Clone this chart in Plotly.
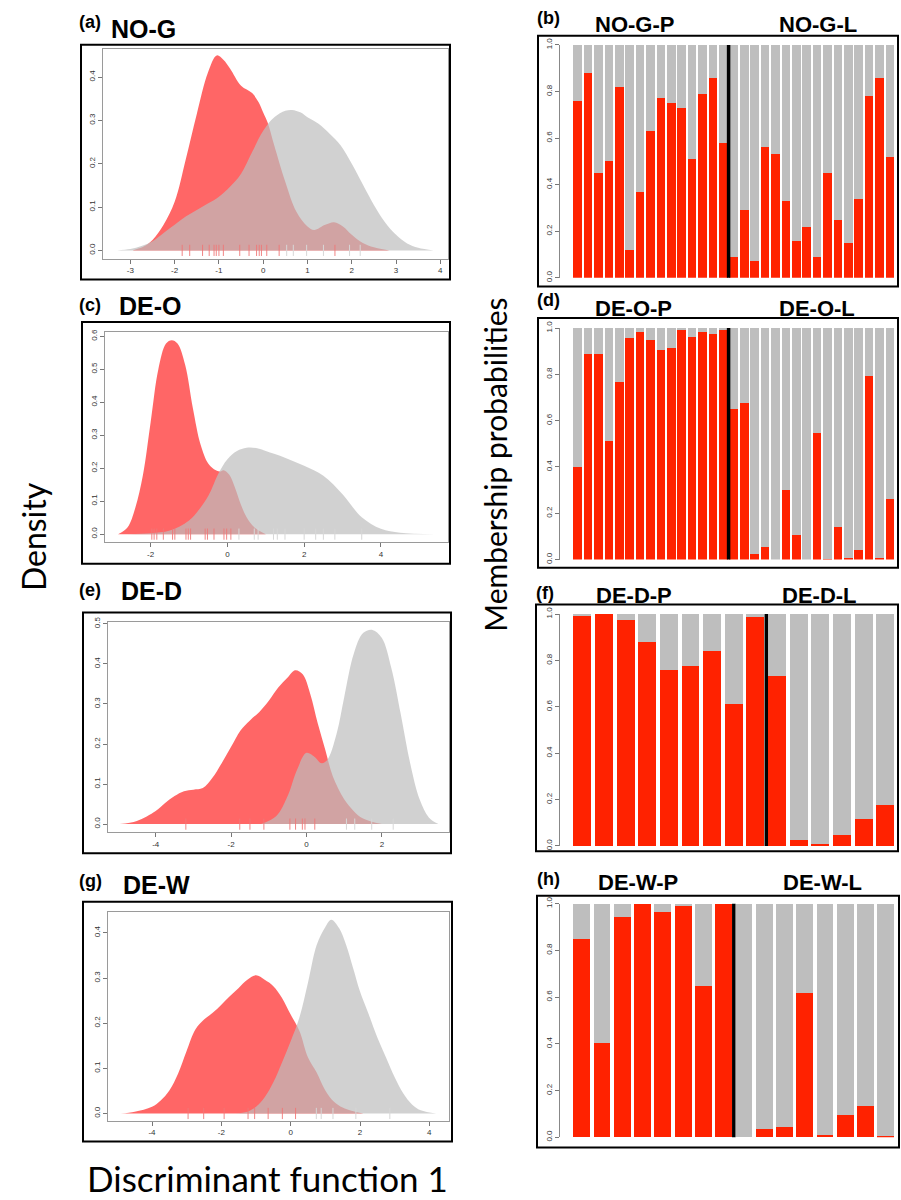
import plotly.graph_objects as go

# ---------------- DATA ----------------
# (a) NO-G density curves (discriminant function 1)
a_red_x = [-2.95, -2.7, -2.5, -2.25, -2.0, -1.75, -1.5, -1.25, -1.05, -0.9, -0.75, -0.5, -0.25, -0.1, 0.0, 0.1, 0.25, 0.5, 0.75, 1.0, 1.15, 1.4, 1.6, 1.8, 2.0, 2.25, 2.5, 2.85]
a_red_y = [0.0, 0.009, 0.024, 0.059, 0.112, 0.21, 0.315, 0.41, 0.45, 0.44, 0.42, 0.38, 0.363, 0.341, 0.318, 0.295, 0.242, 0.158, 0.089, 0.055, 0.047, 0.059, 0.065, 0.055, 0.036, 0.017, 0.007, 0.0]
a_gray_x = [-3.3, -3.0, -2.75, -2.5, -2.25, -2.0, -1.75, -1.5, -1.25, -1.0, -0.75, -0.5, -0.25, 0.0, 0.25, 0.5, 0.65, 0.85, 1.0, 1.25, 1.5, 1.75, 2.0, 2.25, 2.5, 2.75, 3.0, 3.25, 3.5, 3.85]
a_gray_y = [0.0, 0.003, 0.01, 0.021, 0.04, 0.059, 0.078, 0.093, 0.108, 0.124, 0.147, 0.177, 0.227, 0.276, 0.307, 0.322, 0.324, 0.318, 0.307, 0.292, 0.269, 0.242, 0.2, 0.152, 0.105, 0.065, 0.036, 0.016, 0.006, 0.0]
a_rug_red = [-1.83, -1.66, -1.37, -1.22, -1.11, -1.06, -1.0, -0.9, -0.53, -0.32, -0.15, -0.09, -0.04, 0.08, 0.36, 1.62]
a_rug_gray = [0.53, 0.68, 0.98, 1.36, 1.95, 2.19]

# (c) DE-O
c_red_x = [-2.85, -2.6, -2.4, -2.2, -2.0, -1.8, -1.6, -1.45, -1.3, -1.1, -0.9, -0.7, -0.5, -0.35, -0.2, -0.1, 0.05, 0.2, 0.35, 0.5, 0.7, 1.0]
c_red_y = [0.0, 0.021, 0.08, 0.18, 0.34, 0.5, 0.578, 0.588, 0.578, 0.513, 0.382, 0.272, 0.214, 0.197, 0.19, 0.194, 0.18, 0.14, 0.09, 0.051, 0.021, 0.0]
c_gray_x = [-2.6, -2.0, -1.5, -1.0, -0.5, -0.25, 0.0, 0.25, 0.5, 0.8, 1.0, 1.5, 2.0, 2.5, 3.0, 3.5, 4.0, 4.5, 5.4]
c_gray_y = [0.0, 0.003, 0.011, 0.041, 0.116, 0.18, 0.227, 0.252, 0.262, 0.26, 0.252, 0.232, 0.207, 0.177, 0.121, 0.051, 0.016, 0.004, 0.0]
c_rug_red = [-1.97, -1.91, -1.84, -1.67, -1.43, -1.37, -1.08, -1.02, -0.96, -0.58, -0.52, -0.35, -0.09, -0.02, 0.09]
c_rug_gray = [0.3, 0.7, 0.8, 1.2, 1.3, 1.5, 2.0, 2.3, 2.5, 2.8, 3.5]

# (e) DE-D
e_red_x = [-4.95, -4.5, -4.0, -3.75, -3.5, -3.25, -3.0, -2.75, -2.5, -2.25, -2.0, -1.75, -1.5, -1.25, -1.0, -0.75, -0.5, -0.3, -0.1, 0.1, 0.3, 0.5, 0.7, 1.0, 1.25, 1.5, 2.0]
e_red_y = [0.0, 0.008, 0.033, 0.053, 0.07, 0.082, 0.086, 0.09, 0.115, 0.152, 0.193, 0.234, 0.259, 0.28, 0.308, 0.341, 0.366, 0.384, 0.374, 0.325, 0.251, 0.185, 0.119, 0.062, 0.033, 0.014, 0.0]
e_gray_x = [-1.2, -0.8, -0.5, -0.25, 0.0, 0.2, 0.4, 0.55, 0.8, 1.0, 1.25, 1.5, 1.75, 2.0, 2.25, 2.5, 2.75, 3.0, 3.25, 3.5]
e_gray_y = [0.0, 0.02, 0.07, 0.136, 0.178, 0.169, 0.152, 0.16, 0.226, 0.317, 0.424, 0.477, 0.485, 0.465, 0.39, 0.275, 0.152, 0.062, 0.016, 0.0]
e_rug_red = [-3.2, -1.77, -1.5, -1.13, -0.44, -0.29, -0.11, -0.04, 0.22]
e_rug_gray = [1.06, 1.28, 1.73, 2.3]

# (g) DE-W
g_red_x = [-4.9, -4.5, -4.0, -3.75, -3.5, -3.25, -3.0, -2.75, -2.5, -2.25, -2.0, -1.75, -1.5, -1.25, -1.0, -0.75, -0.5, -0.25, 0.0, 0.25, 0.5, 0.75, 1.0, 1.25, 1.5, 1.75, 2.1]
g_red_y = [0.0, 0.004, 0.015, 0.029, 0.051, 0.088, 0.139, 0.186, 0.208, 0.223, 0.241, 0.26, 0.278, 0.296, 0.306, 0.296, 0.282, 0.256, 0.219, 0.183, 0.124, 0.091, 0.051, 0.026, 0.013, 0.006, 0.0]
g_gray_x = [-1.6, -1.25, -1.0, -0.75, -0.5, -0.25, 0.0, 0.25, 0.5, 0.75, 1.0, 1.17, 1.4, 1.6, 1.8, 2.0, 2.25, 2.5, 2.75, 3.0, 3.25, 3.5, 3.75, 4.2]
g_gray_y = [0.0, 0.004, 0.015, 0.036, 0.069, 0.113, 0.16, 0.212, 0.29, 0.373, 0.413, 0.429, 0.41, 0.373, 0.322, 0.27, 0.22, 0.168, 0.124, 0.08, 0.044, 0.02, 0.007, 0.0]
g_rug_red = [-2.96, -2.51, -1.92, -1.23, -1.04, -0.65, -0.24, 0.14]
g_rug_gray = [0.74, 0.88, 1.22, 1.88, 2.86]

# membership probabilities (probability of P group; remainder is L group)
b_P = [0.76, 0.88, 0.45, 0.50, 0.82, 0.12, 0.37, 0.63, 0.77, 0.75, 0.73, 0.51, 0.79, 0.86, 0.58]
b_L = [0.09, 0.29, 0.07, 0.56, 0.53, 0.33, 0.16, 0.22, 0.09, 0.45, 0.25, 0.15, 0.34, 0.78, 0.86, 0.52]
d_P = [0.40, 0.89, 0.89, 0.51, 0.765, 0.958, 0.985, 0.95, 0.905, 0.912, 0.99, 0.96, 0.985, 0.975, 0.99]
d_L = [0.65, 0.675, 0.025, 0.054, 0.0, 0.30, 0.108, 0.0, 0.546, 0.003, 0.14, 0.008, 0.04, 0.793, 0.005, 0.261]
f_P = [0.994, 1.0, 0.974, 0.88, 0.758, 0.775, 0.839, 0.611, 0.989]
f_L = [0.732, 0.024, 0.01, 0.046, 0.117, 0.178]
h_P = [0.85, 0.404, 0.944, 1.0, 0.965, 0.994, 0.647, 1.0]
h_L = [0.0, 0.036, 0.045, 0.617, 0.01, 0.095, 0.132, 0.007]

# tick labels
a_xticks = [-3, -2, -1, 0, 1, 2, 3, 4]
a_yticks = [0.0, 0.1, 0.2, 0.3, 0.4]
c_xticks = [-2, 0, 2, 4]
c_yticks = [0.0, 0.1, 0.2, 0.3, 0.4, 0.5, 0.6]
e_xticks = [-4, -2, 0, 2]
e_yticks = [0.0, 0.1, 0.2, 0.3, 0.4, 0.5]
g_xticks = [-4, -2, 0, 2, 4]
g_yticks = [0.0, 0.1, 0.2, 0.3, 0.4]
bar_yticks = [0.0, 0.2, 0.4, 0.6, 0.8, 1.0]

# ---------------- STYLE / LAYOUT ----------------
W, H = 901, 1200
def fx(px):
    return px / W
def fy(py):
    return 1 - py / H

RED_FILL = "rgba(255,0,0,0.6)"
GRAY_FILL = "rgba(190,190,190,0.7)"
RUG_RED = "rgba(240,120,120,0.9)"
RUG_GRAY = "rgba(215,215,215,1)"
BAR_RED = "#FF2200"
BAR_GRAY = "#BEBEBE"
BOX = "#9a9a9a"
TICKFONT = dict(family="Liberation Sans, Arial", size=8, color="#333333")
TITLEFONT = "Liberation Sans, Arial"
LABELFONT = "Lato, Open Sans"

fig = go.Figure()
layout = dict(width=W, height=H, margin=dict(l=0, r=0, t=0, b=0),
              paper_bgcolor="white", plot_bgcolor="white",
              showlegend=False, barmode="stack")
shapes = []
annotations = []

density_panels = [
    dict(n=1, red=(a_red_x, a_red_y), gray=(a_gray_x, a_gray_y), rr=a_rug_red, rg=a_rug_gray,
         xt=a_xticks, yt=a_yticks, box=(103, 42, 448, 254), xr=(-3.618, 4.173), yr=(-0.0191, 0.4656),
         frame=(81, 38, 450, 275), lab="(a)", labpos=(90, 15), title="NO-G", tpos=(109, 22)),
    dict(n=3, red=(c_red_x, c_red_y), gray=(c_gray_x, c_gray_y), rr=c_rug_red, rg=c_rug_gray,
         xt=c_xticks, yt=c_yticks, box=(105, 328, 448, 540), xr=(-3.19, 5.748), yr=(-0.024, 0.613),
         frame=(82, 318, 450, 562), lab="(c)", labpos=(90, 301), title="DE-O", tpos=(117, 302)),
    dict(n=5, red=(e_red_x, e_red_y), gray=(e_gray_x, e_gray_y), rr=e_rug_red, rg=e_rug_gray,
         xt=e_xticks, yt=e_yticks, box=(108, 621, 449, 833), xr=(-5.265, 3.78), yr=(-0.0206, 0.504),
         frame=(83, 611, 451, 854), lab="(e)", labpos=(90, 588), title="DE-D", tpos=(119, 589)),
    dict(n=7, red=(g_red_x, g_red_y), gray=(g_gray_x, g_gray_y), rr=g_rug_red, rg=g_rug_gray,
         xt=g_xticks, yt=g_yticks, box=(108, 913, 449, 1124), xr=(-5.27, 4.567), yr=(-0.016, 0.447),
         frame=(83, 903, 452, 1145), lab="(g)", labpos=(90, 882), title="DE-W", tpos=(121, 886)),
]

for p in density_panels:
    n = p["n"]
    xa, ya = f"x{n}", f"y{n}"
    for (xs, ys), col in ((p["red"], RED_FILL), (p["gray"], GRAY_FILL)):
        fig.add_trace(go.Scatter(x=xs, y=ys, mode="lines",
                                 line=dict(width=0, shape="spline", color=col),
                                 fill="tozeroy", fillcolor=col, xaxis=xa, yaxis=ya,
                                 hoverinfo="skip"))
    for rug, col in ((p["rr"], RUG_RED), (p["rg"], RUG_GRAY)):
        fig.add_trace(go.Scatter(x=rug, y=[0] * len(rug), mode="markers",
                                 marker=dict(symbol="line-ns", size=8,
                                             line=dict(width=1, color=col)),
                                 xaxis=xa, yaxis=ya, hoverinfo="skip"))
    L, T, R, B = p["box"]
    common = dict(showline=True, mirror=True, linecolor=BOX, linewidth=1,
                  ticks="outside", ticklen=4, tickcolor="#777777", tickwidth=1,
                  showgrid=False, zeroline=False, tickfont=TICKFONT)
    layout[f"xaxis{n}"] = dict(domain=[fx(L), fx(R)], range=list(p["xr"]), anchor=ya,
                               tickvals=p["xt"], ticktext=[str(v) for v in p["xt"]], **common)
    layout[f"yaxis{n}"] = dict(domain=[fy(B), fy(T)], range=list(p["yr"]), anchor=xa,
                               tickvals=p["yt"], tickformat=".1f", tickangle=-90, **common)
    fl, ft, fr, fb = p["frame"]
    shapes.append(dict(type="rect", xref="paper", yref="paper", x0=fx(fl), x1=fx(fr),
                       y0=fy(fb), y1=fy(ft), line=dict(color="black", width=2)))
    annotations.append(dict(text=f"<b>{p['lab']}</b>", x=fx(p["labpos"][0]), y=fy(p["labpos"][1]),
                            xref="paper", yref="paper", xanchor="center", yanchor="middle",
                            showarrow=False, font=dict(family=TITLEFONT, size=18, color="black")))
    annotations.append(dict(text=f"<b>{p['title']}</b>", x=fx(p["tpos"][0]), y=fy(p["tpos"][1]),
                            xref="paper", yref="paper", xanchor="left", yanchor="middle",
                            showarrow=False, font=dict(family=TITLEFONT, size=25, color="black")))

bar_panels = [
    dict(n=2, P=b_P, L=b_L, y1=38.3, y0=273.3, frame=(538, 29, 898, 282), lab="(b)", labpos=(548, 11),
         tP="NO-G-P", tL="NO-G-L", ty=18, cP=634, cL=818),
    dict(n=4, P=d_P, L=d_L, y1=324, y0=557.7, frame=(538, 314, 898, 566), lab="(d)", labpos=(548, 296),
         tP="DE-O-P", tL="DE-O-L", ty=304, cP=633, cL=817),
    dict(n=6, P=f_P, L=f_L, y1=612.7, y0=846.7, frame=(536, 603, 898, 852), lab="(f)", labpos=(545, 591),
         tP="DE-D-P", tL="DE-D-L", ty=594, cP=634, cL=819),
    dict(n=8, P=h_P, L=h_L, y1=905, y0=1140.7, frame=(537, 897, 899, 1151), lab="(h)", labpos=(548, 880),
         tP="DE-W-P", tL="DE-W-L", ty=884, cP=638, cL=822),
]

BARW = 0.83
BAR_LEFT, BAR_RIGHT = 573.3, 894.3
for p in bar_panels:
    n = p["n"]
    xa, ya = f"x{n}", f"y{n}"
    vals = p["P"] + p["L"]
    m = len(vals)
    xs = list(range(m))
    fig.add_trace(go.Bar(x=xs, y=vals, width=BARW, marker=dict(color=BAR_RED, line=dict(width=0)),
                         xaxis=xa, yaxis=ya, hoverinfo="skip"))
    fig.add_trace(go.Bar(x=xs, y=[1 - v for v in vals], width=BARW,
                         marker=dict(color=BAR_GRAY, line=dict(width=0)),
                         xaxis=xa, yaxis=ya, hoverinfo="skip"))
    split = len(p["P"]) - 0.5
    fig.add_trace(go.Scatter(x=[split, split], y=[-0.005, 1.008], mode="lines",
                             line=dict(color="black", width=3.5), xaxis=xa, yaxis=ya,
                             hoverinfo="skip"))
    pitch = (BAR_RIGHT - BAR_LEFT) / (m - (1 - BARW))
    dl = BAR_LEFT - pitch * (1 - BARW) / 2
    dr = BAR_RIGHT + pitch * (1 - BARW) / 2
    layout[f"xaxis{n}"] = dict(domain=[fx(dl), fx(dr)], range=[-0.5, m - 0.5], anchor=ya,
                               visible=False, showgrid=False, zeroline=False)
    layout[f"yaxis{n}"] = dict(domain=[fy(p["y0"]), fy(p["y1"])], range=[0, 1], anchor="free",
                               position=fx(559.3), tickvals=bar_yticks, tickformat=".1f",
                               tickangle=-90, showline=True, linecolor="#888888", linewidth=1,
                               ticks="outside", ticklen=4, tickcolor="#777777",
                               showgrid=False, zeroline=False, tickfont=TICKFONT)
    fl, ft, fr, fb = p["frame"]
    shapes.append(dict(type="rect", xref="paper", yref="paper", x0=fx(fl), x1=fx(fr),
                       y0=fy(fb), y1=fy(ft), line=dict(color="black", width=2)))
    annotations.append(dict(text=f"<b>{p['lab']}</b>", x=fx(p["labpos"][0]), y=fy(p["labpos"][1]),
                            xref="paper", yref="paper", xanchor="center", yanchor="middle",
                            showarrow=False, font=dict(family=TITLEFONT, size=18, color="black")))
    for txt, cx in ((p["tP"], p["cP"]), (p["tL"], p["cL"])):
        annotations.append(dict(text=f"<b>{txt}</b>", x=fx(cx), y=fy(p["ty"]),
                                xref="paper", yref="paper", xanchor="center", yanchor="middle",
                                showarrow=False, font=dict(family=TITLEFONT, size=22, color="black")))

# global axis titles
annotations.append(dict(text="Density", x=fx(33), y=fy(535), xref="paper", yref="paper",
                        textangle=-90, xanchor="center", yanchor="middle", showarrow=False,
                        font=dict(family=LABELFONT, size=32, color="black")))
annotations.append(dict(text="Membership probabilities", x=fx(495), y=fy(462), xref="paper", yref="paper",
                        textangle=-90, xanchor="center", yanchor="middle", showarrow=False,
                        font=dict(family=LABELFONT, size=30, color="black")))
annotations.append(dict(text="Discriminant function 1", x=fx(267), y=fy(1182), xref="paper", yref="paper",
                        xanchor="center", yanchor="middle", showarrow=False,
                        font=dict(family=LABELFONT, size=35, color="black")))

layout["shapes"] = shapes
layout["annotations"] = annotations
fig.update_layout(**layout)
fig.write_html("out.html", config={"displayModeBar": False},
               post_script="document.body.style.margin='0';document.body.style.overflow='hidden';")
